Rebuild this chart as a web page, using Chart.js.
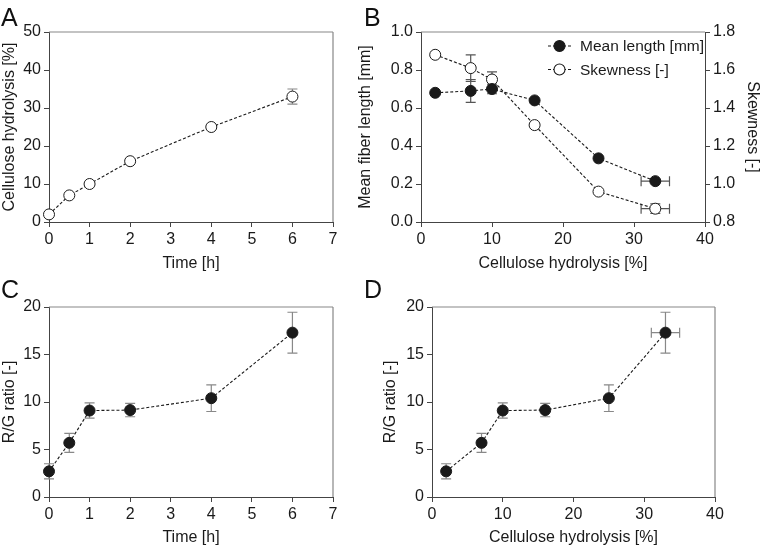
<!DOCTYPE html>
<html>
<head>
<meta charset="utf-8">
<script src="https://cdn.jsdelivr.net/npm/chart.js@4/dist/chart.umd.min.js"></script>
<style>
  body { margin: 0; background: #fff; }
  #wrap { position: relative; width: 762px; height: 549px; overflow: hidden; font-family: "Liberation Sans", Arial, sans-serif; }
  .pn { position: absolute; }
  .pn canvas { display: block; }
  .lbl { position: absolute; font-size: 25px; line-height: 1; color: #111; }
</style>
</head>
<body>
<div id="wrap">
  <div class="pn" style="left:0;top:0"><canvas id="chartA" width="381" height="275"></canvas></div>
  <div class="pn" style="left:350px;top:0"><canvas id="chartB" width="412" height="275"></canvas></div>
  <div class="pn" style="left:0;top:275px"><canvas id="chartC" width="381" height="274"></canvas></div>
  <div class="pn" style="left:381px;top:275px"><canvas id="chartD" width="381" height="274"></canvas></div>
  <div class="lbl" style="left:1px;top:5px">A</div>
  <div class="lbl" style="left:364px;top:5px">B</div>
  <div class="lbl" style="left:1px;top:277px">C</div>
  <div class="lbl" style="left:364px;top:277px">D</div>
</div>
<script>
  // data
  var timeH = [0, 0.5, 1, 2, 4, 6];
  var hydrolysis = [2, 7, 10, 16, 25, 33];
  var hydrolysisErr = [0, 0, 0, 0, 0, 2];
  var meanLength = [0.68, 0.69, 0.70, 0.64, 0.335, 0.215];
  var meanLengthErr = [0, 0.06, 0.025, 0, 0, 0];
  var skewness = [1.68, 1.61, 1.55, 1.31, 0.96, 0.87];
  var skewnessErr = [0, 0.07, 0.04, 0, 0, 0.025];
  var rgRatio = [2.7, 5.7, 9.1, 9.15, 10.4, 17.3];
  var rgRatioErr = [0.8, 1.0, 0.8, 0.7, 1.4, 2.15];

  var FONT = '"Liberation Sans", Arial, sans-serif';
  var INK = '#1a1a1a';

  function pts(xs, ys) {
    return xs.map(function(x, i) { return { x: x, y: ys[i] }; });
  }

  function series(label, xs, ys, filled, extra) {
    var ds = {
      label: label,
      data: pts(xs, ys),
      showLine: true,
      clip: false,
      borderColor: INK,
      borderWidth: 1.1,
      borderDash: [3, 2],
      tension: 0,
      pointRadius: 5.5,
      pointBorderWidth: 1,
      pointBorderColor: INK,
      pointBackgroundColor: filled ? INK : '#fff'
    };
    for (var k in extra) ds[k] = extra[k];
    return ds;
  }

  function axis(pos, min, max, step, title, size, digits, titleGap) {
    var a = {
      type: 'linear',
      position: pos,
      min: min,
      max: max,
      afterFit: function(s) {
        if (s.isHorizontal()) s.height = size; else s.width = size;
      },
      ticks: { stepSize: step, color: INK, font: { size: 16, family: FONT }, padding: 3 },
      grid: { drawOnChartArea: false, drawTicks: true, tickLength: 5, color: '#444' },
      border: { display: true, color: '#444', width: 1 },
      title: { display: true, text: title, color: INK, font: { size: 16, family: FONT }, padding: { top: titleGap || 0, bottom: 2 } }
    };
    if (digits) {
      a.ticks.callback = function(v) { return v.toFixed(digits); };
    }
    return a;
  }

  // error bars drawn behind the markers
  var errorBars = {
    id: 'errorBars',
    beforeDatasetsDraw: function(chart) {
      var ctx = chart.ctx;
      chart.data.datasets.forEach(function(ds, di) {
        var meta = chart.getDatasetMeta(di);
        var xs = meta.xScale, ys = meta.yScale;
        ctx.save();
        ctx.strokeStyle = ds.errColor || '#888';
        ctx.lineWidth = 1.2;
        ctx.beginPath();
        ds.data.forEach(function(p, i) {
          var px = xs.getPixelForValue(p.x), py = ys.getPixelForValue(p.y);
          var ey = ds.errY ? ds.errY[i] : 0;
          var ex = ds.errX ? ds.errX[i] : 0;
          if (ey) {
            var t = ys.getPixelForValue(p.y + ey), b = ys.getPixelForValue(p.y - ey);
            ctx.moveTo(px, t); ctx.lineTo(px, b);
            ctx.moveTo(px - 5, t); ctx.lineTo(px + 5, t);
            ctx.moveTo(px - 5, b); ctx.lineTo(px + 5, b);
          }
          if (ex) {
            var l = xs.getPixelForValue(p.x - ex), r = xs.getPixelForValue(p.x + ex);
            ctx.moveTo(l, py); ctx.lineTo(r, py);
            ctx.moveTo(l, py - 5); ctx.lineTo(l, py + 5);
            ctx.moveTo(r, py - 5); ctx.lineTo(r, py + 5);
          }
        });
        ctx.stroke();
        ctx.restore();
      });
    }
  };

  // grey box lines on top (and right when there is no right axis)
  var frame = {
    id: 'frame',
    beforeDatasetsDraw: function(chart, args, opts) {
      var a = chart.chartArea, ctx = chart.ctx;
      ctx.save();
      ctx.strokeStyle = '#888';
      ctx.lineWidth = 1.2;
      ctx.beginPath();
      ctx.moveTo(a.left, a.top); ctx.lineTo(a.right, a.top);
      if (opts.right) { ctx.moveTo(a.right, a.top); ctx.lineTo(a.right, a.bottom); }
      ctx.stroke();
      ctx.restore();
    }
  };

  // legend for panel B: dashed stub with marker, then the label
  var miniLegend = {
    id: 'miniLegend',
    afterDatasetsDraw: function(chart, args, opts) {
      if (!opts.show) return;
      var a = chart.chartArea, ctx = chart.ctx;
      chart.data.datasets.forEach(function(ds, i) {
        var y = a.top + 14 + i * 23.5;
        var x0 = a.left + 127;
        ctx.save();
        ctx.strokeStyle = INK;
        ctx.lineWidth = 1.1;
        ctx.setLineDash([3, 2]);
        ctx.beginPath();
        ctx.moveTo(x0, y); ctx.lineTo(x0 + 23, y);
        ctx.stroke();
        ctx.setLineDash([]);
        ctx.beginPath();
        ctx.arc(x0 + 11.5, y, 5.5, 0, Math.PI * 2);
        ctx.fillStyle = ds.pointBackgroundColor;
        ctx.fill();
        ctx.stroke();
        ctx.fillStyle = INK;
        ctx.font = '15.5px ' + FONT;
        ctx.textBaseline = 'middle';
        ctx.fillText(ds.label, a.left + 159, y + 1);
        ctx.restore();
      });
    }
  };

  function baseOptions(pad, scales, frameRight, legend) {
    return {
      responsive: false,
      animation: false,
      layout: { padding: pad },
      scales: scales,
      plugins: {
        legend: { display: false },
        tooltip: { enabled: false },
        frame: { right: frameRight },
        miniLegend: { show: !!legend }
      }
    };
  }

  var plugins = [errorBars, frame, miniLegend];

  new Chart(document.getElementById('chartA'), {
    type: 'line',
    data: { datasets: [series('Cellulose hydrolysis', timeH, hydrolysis, false, { errY: hydrolysisErr })] },
    options: baseOptions({ top: 32, right: 48, left: 0, bottom: 0 }, {
      x: axis('bottom', 0, 7, 1, 'Time [h]', 53),
      y: axis('left', 0, 50, 10, 'Cellulose hydrolysis [%]', 49)
    }, true),
    plugins: plugins
  });

  new Chart(document.getElementById('chartB'), {
    type: 'line',
    data: { datasets: [
      series('Mean length [mm]', hydrolysis, meanLength, true, { yAxisID: 'y', errY: meanLengthErr, errX: hydrolysisErr, errColor: '#555' }),
      series('Skewness [-]', hydrolysis, skewness, false, { yAxisID: 'y1', errY: skewnessErr, errX: hydrolysisErr, errColor: '#555' })
    ] },
    options: baseOptions({ top: 32, right: 0, left: 0, bottom: 0 }, {
      x: axis('bottom', 0, 40, 10, 'Cellulose hydrolysis [%]', 53),
      y: axis('left', 0, 1, 0.2, 'Mean fiber length [mm]', 71, 1, 6),
      y1: axis('right', 0.8, 1.8, 0.2, 'Skewness [-]', 57, 1)
    }, false, true),
    plugins: plugins
  });

  new Chart(document.getElementById('chartC'), {
    type: 'line',
    data: { datasets: [series('R/G ratio', timeH, rgRatio, true, { errY: rgRatioErr })] },
    options: baseOptions({ top: 32, right: 48, left: 0, bottom: 0 }, {
      x: axis('bottom', 0, 7, 1, 'Time [h]', 52),
      y: axis('left', 0, 20, 5, 'R/G ratio [-]', 49)
    }, true),
    plugins: plugins
  });

  new Chart(document.getElementById('chartD'), {
    type: 'line',
    data: { datasets: [series('R/G ratio', hydrolysis, rgRatio, true, { errY: rgRatioErr, errX: hydrolysisErr })] },
    options: baseOptions({ top: 32, right: 47, left: 0, bottom: 0 }, {
      x: axis('bottom', 0, 40, 10, 'Cellulose hydrolysis [%]', 52),
      y: axis('left', 0, 20, 5, 'R/G ratio [-]', 51)
    }, true),
    plugins: plugins
  });
</script>
</body>
</html>
